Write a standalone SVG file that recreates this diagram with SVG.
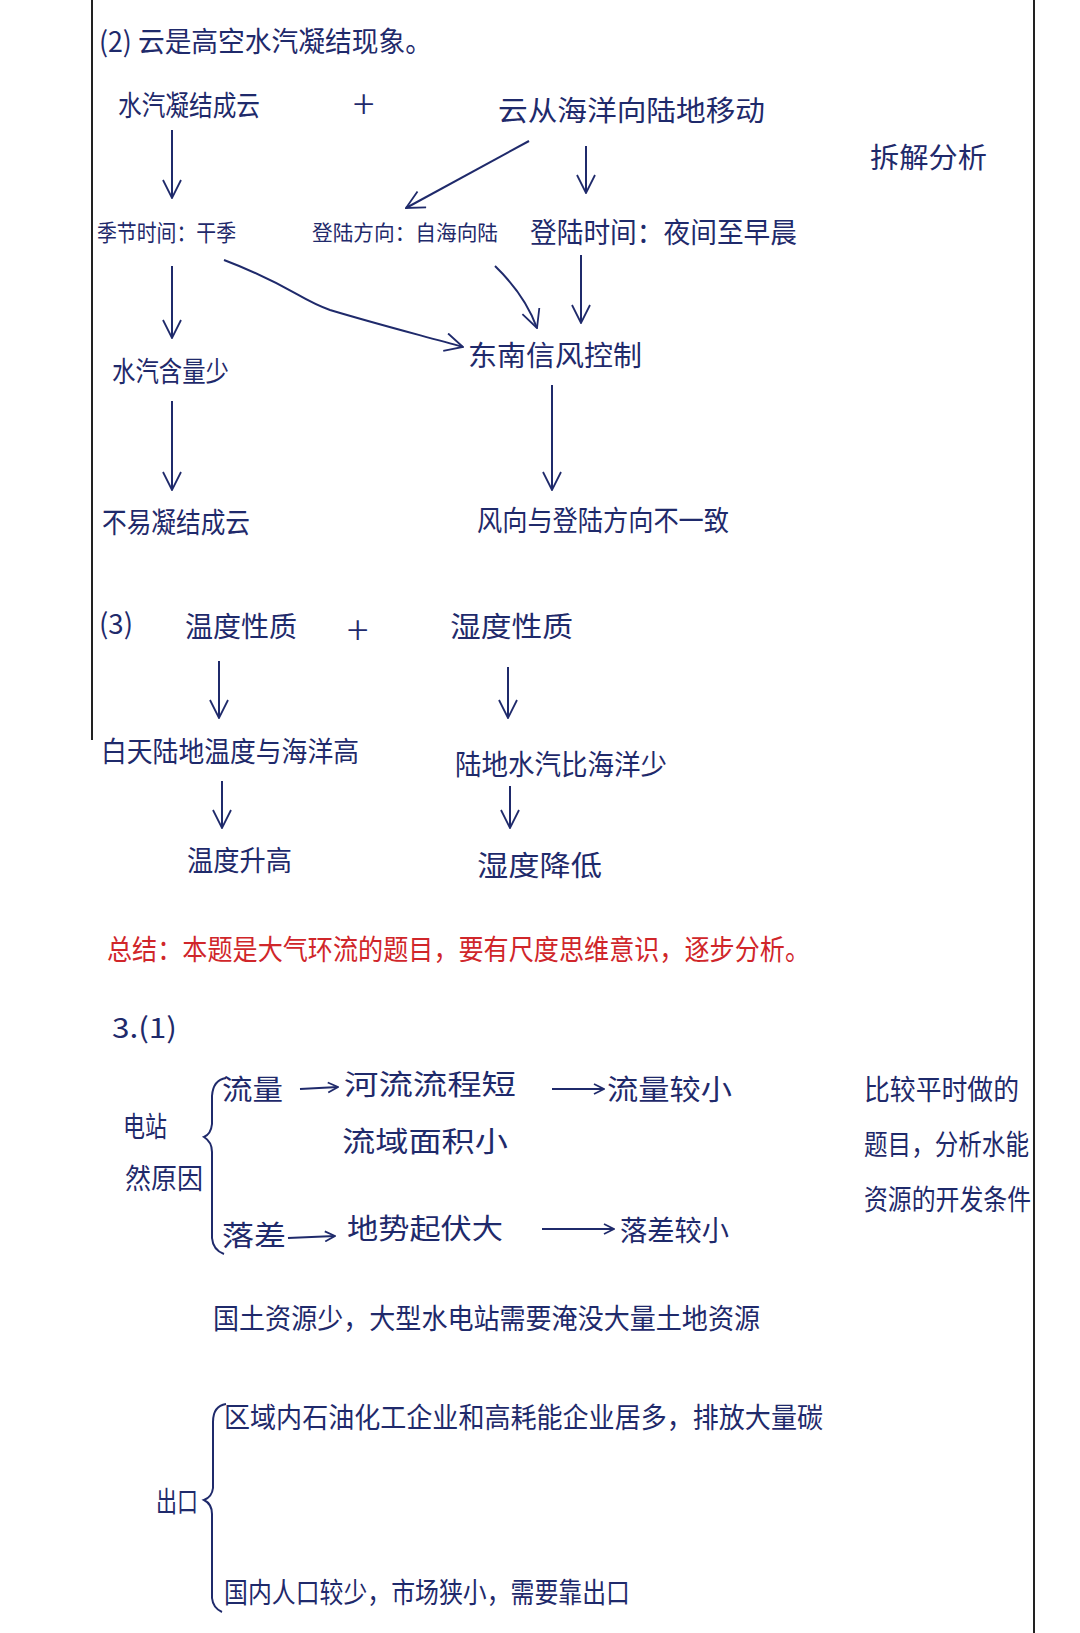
<svg xmlns="http://www.w3.org/2000/svg" width="1080" height="1633" viewBox="0 0 1080 1633">
<style>
text{font-family:"Noto Sans CJK SC","Noto Sans",sans-serif;font-size:28px;fill:#1f2a6b;dominant-baseline:central}
.red{fill:#d0262a}
.plus{font-size:40px;font-weight:300}
.s21{font-size:21px}
.s23{font-size:23px}
.c{stroke:#1f2a6b;stroke-width:2;fill:none}
.frame{stroke:#222;stroke-width:2;fill:none}
</style>
<defs>
<marker id="ah" viewBox="0 0 12 12" refX="11" refY="6" markerWidth="12" markerHeight="12" markerUnits="userSpaceOnUse" orient="auto">
<path d="M1,1 L11,6 L1,11" fill="none" stroke="#1f2a6b" stroke-width="1.8"/>
</marker>
<marker id="ahL" viewBox="0 0 20 20" refX="19" refY="10" markerWidth="20" markerHeight="20" markerUnits="userSpaceOnUse" orient="auto">
<path d="M1,1 L19,10 L1,19" fill="none" stroke="#1f2a6b" stroke-width="1.8"/>
</marker>
</defs>
<rect width="1080" height="1633" fill="#fff"/>
<g id="frame">
<line class="frame" x1="92" y1="0" x2="92" y2="740"/>
<line class="frame" x1="1034" y1="0" x2="1034" y2="1633"/>
</g>
<g id="title2"><text x="99" y="40" textLength="333" lengthAdjust="spacingAndGlyphs">(2) 云是高空水汽凝结现象。</text></g>
<g id="n_ningjie"><text x="118" y="104" textLength="142" lengthAdjust="spacingAndGlyphs">水汽凝结成云</text></g>
<g id="plus1"><text class="plus" x="353" y="102">+</text></g>
<g id="n_yidong"><text x="498" y="109" textLength="267" lengthAdjust="spacingAndGlyphs">云从海洋向陆地移动</text></g>
<g id="note1"><text x="870" y="156" textLength="117" lengthAdjust="spacingAndGlyphs">拆解分析</text></g>
<g id="n_jijie"><text class="s23" x="97" y="231" textLength="139" lengthAdjust="spacingAndGlyphs">季节时间：干季</text></g>
<g id="n_fangxiang"><text class="s21" x="312" y="231" textLength="186" lengthAdjust="spacingAndGlyphs">登陆方向：自海向陆</text></g>
<g id="n_shijian"><text x="530" y="231" textLength="267" lengthAdjust="spacingAndGlyphs">登陆时间：夜间至早晨</text></g>
<g id="n_xinfeng"><text x="468" y="354" textLength="174" lengthAdjust="spacingAndGlyphs">东南信风控制</text></g>
<g id="n_shaoliang"><text x="112" y="370" textLength="117" lengthAdjust="spacingAndGlyphs">水汽含量少</text></g>
<g id="n_buyi"><text x="102" y="521" textLength="148" lengthAdjust="spacingAndGlyphs">不易凝结成云</text></g>
<g id="n_fengxiang"><text x="477" y="519" textLength="252" lengthAdjust="spacingAndGlyphs">风向与登陆方向不一致</text></g>
<g id="title3"><text x="99" y="622" textLength="34" lengthAdjust="spacingAndGlyphs">(3)</text></g>
<g id="n_wendu"><text x="185" y="625" textLength="112" lengthAdjust="spacingAndGlyphs">温度性质</text></g>
<g id="plus2"><text class="plus" x="347" y="628">+</text></g>
<g id="n_shidu"><text x="450" y="625" textLength="123" lengthAdjust="spacingAndGlyphs">湿度性质</text></g>
<g id="n_baitian"><text x="101" y="750" textLength="258" lengthAdjust="spacingAndGlyphs">白天陆地温度与海洋高</text></g>
<g id="n_ludi"><text x="455" y="763" textLength="212" lengthAdjust="spacingAndGlyphs">陆地水汽比海洋少</text></g>
<g id="n_shenggao"><text x="187" y="859" textLength="105" lengthAdjust="spacingAndGlyphs">温度升高</text></g>
<g id="n_jiangdi"><text x="477" y="864" textLength="125" lengthAdjust="spacingAndGlyphs">湿度降低</text></g>
<g id="summary"><text class="red" x="107" y="948" textLength="703" lengthAdjust="spacingAndGlyphs">总结：本题是大气环流的题目，要有尺度思维意识，逐步分析。</text></g>
<g id="title31"><text x="112" y="1026" textLength="65" lengthAdjust="spacingAndGlyphs">3.(1)</text></g>
<g id="n_dianzhan"><text x="123" y="1125" textLength="44" lengthAdjust="spacingAndGlyphs">电站</text><text x="125" y="1177" textLength="78" lengthAdjust="spacingAndGlyphs">然原因</text></g>
<g id="n_liuliang"><text x="222" y="1088" textLength="61" lengthAdjust="spacingAndGlyphs">流量</text></g>
<g id="n_heliu"><text x="344" y="1083" textLength="172" lengthAdjust="spacingAndGlyphs">河流流程短</text><text x="342" y="1140" textLength="166" lengthAdjust="spacingAndGlyphs">流域面积小</text></g>
<g id="n_liuliangxiao"><text x="607" y="1088" textLength="125" lengthAdjust="spacingAndGlyphs">流量较小</text></g>
<g id="note2"><text x="864" y="1088" textLength="155" lengthAdjust="spacingAndGlyphs">比较平时做的</text><text x="864" y="1143" textLength="165" lengthAdjust="spacingAndGlyphs">题目，分析水能</text><text x="864" y="1198" textLength="167" lengthAdjust="spacingAndGlyphs">资源的开发条件</text></g>
<g id="n_luocha"><text x="222" y="1234" textLength="64" lengthAdjust="spacingAndGlyphs">落差</text></g>
<g id="n_dishi"><text x="347" y="1227" textLength="156" lengthAdjust="spacingAndGlyphs">地势起伏大</text></g>
<g id="n_luochaxiao"><text x="620" y="1229" textLength="109" lengthAdjust="spacingAndGlyphs">落差较小</text></g>
<g id="n_guotu"><text x="213" y="1317" textLength="547" lengthAdjust="spacingAndGlyphs">国土资源少，大型水电站需要淹没大量土地资源</text></g>
<g id="n_chukou"><text x="156" y="1500" textLength="42" lengthAdjust="spacingAndGlyphs">出口</text></g>
<g id="n_quyu"><text x="224" y="1416" textLength="599" lengthAdjust="spacingAndGlyphs">区域内石油化工企业和高耗能企业居多，排放大量碳</text></g>
<g id="n_guonei"><text x="224" y="1591" textLength="406" lengthAdjust="spacingAndGlyphs">国内人口较少，市场狭小，需要靠出口</text></g>
<g id="connectors">
<path class="c" d="M172,130 L172,198" marker-end="url(#ahL)"/>
<path class="c" d="M529,141 L406,208" marker-end="url(#ahL)"/>
<path class="c" d="M586,146 L586,193" marker-end="url(#ahL)"/>
<path class="c" d="M172,266 L172,338" marker-end="url(#ahL)"/>
<path class="c" d="M224,260 C290,285 300,300 330,310 C380,325 420,335 463,347" marker-end="url(#ahL)"/>
<path class="c" d="M495,266 Q525,295 537,328" marker-end="url(#ahL)"/>
<path class="c" d="M581,255 L581,323" marker-end="url(#ahL)"/>
<path class="c" d="M172,401 L172,490" marker-end="url(#ahL)"/>
<path class="c" d="M552,385 L552,490" marker-end="url(#ahL)"/>
<path class="c" d="M219,661 L219,718" marker-end="url(#ahL)"/>
<path class="c" d="M508,667 L508,718" marker-end="url(#ahL)"/>
<path class="c" d="M222,781 L222,828" marker-end="url(#ahL)"/>
<path class="c" d="M510,786 L510,828" marker-end="url(#ahL)"/>
<path class="c" d="M300,1089 L338,1087" marker-end="url(#ah)"/>
<path class="c" d="M552,1089 L604,1089" marker-end="url(#ah)"/>
<path class="c" d="M288,1238 L335,1236" marker-end="url(#ah)"/>
<path class="c" d="M542,1229 L614,1229" marker-end="url(#ah)"/>
<path class="c" d="M226,1078 Q213,1080 212,1096 L212,1124 Q211,1134 204,1137 Q212,1142 212,1152 L212,1238 Q213,1250 224,1254"/>
<path class="c" d="M226,1404 Q213,1406 213,1422 L213,1488 Q212,1497 204,1500 Q212,1504 212,1514 L212,1598 Q213,1608 222,1612"/>
</g>
</svg>
